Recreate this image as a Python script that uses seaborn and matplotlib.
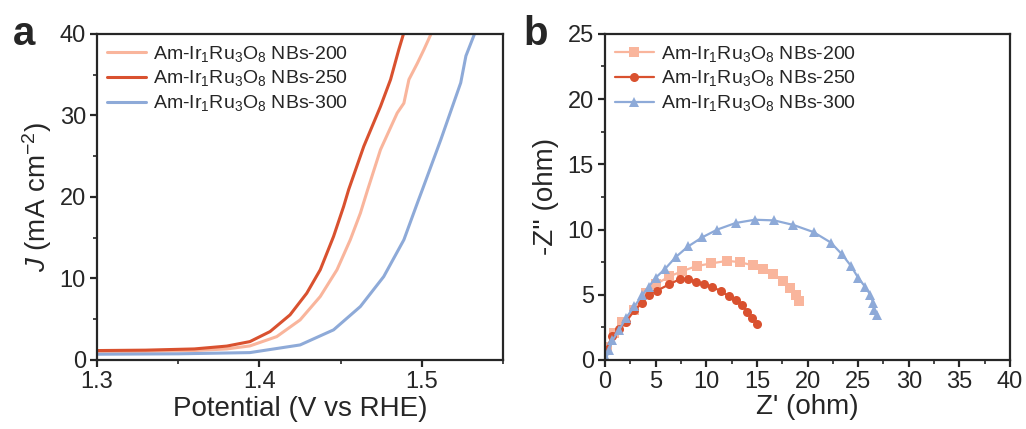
import numpy as np
import pandas as pd
import matplotlib
matplotlib.use("Agg")
import matplotlib.pyplot as plt
from matplotlib.ticker import MultipleLocator
import seaborn as sns

# LSV curves (panel a)
v_200 = [1.30, 1.33, 1.36, 1.38, 1.3942, 1.4107, 1.4251, 1.4375, 1.4478, 1.456, 1.4622, 1.4664,
         1.4746, 1.4849, 1.489, 1.4921, 1.4973, 1.5014, 1.5055]
j_200 = [1.0, 1.05, 1.15, 1.35, 1.72, 2.86, 4.91, 7.78, 11.06, 14.74, 18.0, 20.7,
         25.8, 30.3, 31.5, 34.4, 36.4, 38.1, 39.9]
v_250 = [1.30, 1.33, 1.36, 1.38, 1.3942, 1.4066, 1.4189, 1.4292, 1.4375, 1.4457, 1.4519, 1.455,
         1.4643, 1.4746, 1.4808, 1.4859, 1.4886]
j_250 = [1.15, 1.2, 1.35, 1.7, 2.25, 3.48, 5.53, 8.19, 11.06, 15.15, 18.83, 20.9,
         26.2, 31.1, 34.4, 38.1, 39.9]
v_300 = [1.30, 1.35, 1.3942, 1.4251, 1.4457, 1.4622, 1.4766, 1.489, 1.4973, 1.5004,
         1.5117, 1.524, 1.5272, 1.5323]
j_300 = [0.7, 0.75, 0.9, 1.84, 3.69, 6.55, 10.23, 14.74, 19.25, 20.9,
         27.0, 34.0, 37.3, 39.9]

# Nyquist plots (panel b)
zr_200 = [0.23, 0.9, 1.7, 2.9, 4.0, 5.0, 6.35, 7.6, 9.05, 10.5, 12.05, 13.3, 14.6, 15.6, 16.6, 17.6, 18.3, 18.9, 19.2]
zi_200 = [1.0, 2.05, 2.9, 3.8, 5.1, 5.8, 6.4, 6.8, 7.2, 7.4, 7.6, 7.5, 7.25, 6.95, 6.6, 6.05, 5.55, 5.0, 4.5]
zr_250 = [0.07, 0.73, 1.4, 2.05, 2.9, 3.7, 4.3, 5.1, 6.35, 7.4, 8.2, 9.0, 9.8, 10.6, 11.5, 12.2, 12.95, 13.55, 14.05, 14.55, 15.0]
zi_250 = [0.77, 1.8, 2.4, 2.9, 3.8, 4.4, 5.0, 5.3, 5.8, 6.2, 6.2, 6.0, 5.8, 5.6, 5.25, 4.9, 4.6, 4.2, 3.7, 3.25, 2.75]
zr_300 = [0.13, 0.4, 0.73, 1.4, 2.05, 2.9, 3.7, 4.3, 5.0, 5.95, 7.0, 8.2, 9.6, 11.1, 12.9, 14.8, 16.7, 18.6, 20.6, 22.3, 23.4, 24.3, 25.0, 25.7, 26.2, 26.5, 26.6, 26.85]
zi_300 = [0.13, 0.77, 1.5, 2.3, 3.2, 4.1, 5.0, 5.6, 6.3, 7.0, 7.9, 8.7, 9.4, 10.0, 10.5, 10.75, 10.7, 10.35, 9.8, 9.0, 8.1, 7.2, 6.3, 5.6, 5.0, 4.35, 3.85, 3.45]

labels = ["Am-Ir$_1$Ru$_3$O$_8$ NBs-200", "Am-Ir$_1$Ru$_3$O$_8$ NBs-250", "Am-Ir$_1$Ru$_3$O$_8$ NBs-300"]
colors = ["#F9B59C", "#D9512F", "#8EAAD8"]

sns.set_style("ticks")
plt.rcParams["font.family"] = ["Liberation Sans", "DejaVu Sans"]
plt.rcParams["mathtext.fontset"] = "custom"
plt.rcParams["mathtext.rm"] = "Liberation Sans"
plt.rcParams["mathtext.it"] = "Liberation Sans:italic"
plt.rcParams["axes.linewidth"] = 1.6

fig = plt.figure(figsize=(10.26, 4.29), dpi=100)
ax1 = fig.add_axes([0.0945, 0.161, 0.3957, 0.760])
ax2 = fig.add_axes([0.5897, 0.161, 0.3947, 0.760])

# panel a
for v, j, lab, c in zip([v_200, v_250, v_300], [j_200, j_250, j_300], labels, colors):
    sns.lineplot(x=v, y=j, ax=ax1, color=c, lw=2.2, label=lab, sort=False)
ax1.set_xlim(1.3, 1.55)
ax1.set_ylim(0, 40)
ax1.xaxis.set_major_locator(MultipleLocator(0.1))
ax1.xaxis.set_minor_locator(MultipleLocator(0.05))
ax1.yaxis.set_major_locator(MultipleLocator(10))
ax1.yaxis.set_minor_locator(MultipleLocator(5))
ax1.set_xlabel("Potential (V vs RHE)", fontsize=20, labelpad=2)
ax1.set_ylabel("$J$ (mA cm$^{-2}$)", fontsize=20, labelpad=4)
ax1.legend(loc="upper left", frameon=False, fontsize=14, handlelength=2.0,
           borderaxespad=0.1, labelspacing=0.25, handletextpad=0.4)

# panel b
markers = ["s", "o", "^"]
for zr, zi, lab, c, m in zip([zr_200, zr_250, zr_300], [zi_200, zi_250, zi_300], labels, colors, markers):
    sns.lineplot(x=zr, y=zi, ax=ax2, color=c, lw=1.6, marker=m, markersize=6.5,
                 markeredgewidth=0, label=lab, sort=False)
ax2.set_xlim(0, 40)
ax2.set_ylim(0, 25)
ax2.xaxis.set_major_locator(MultipleLocator(5))
ax2.xaxis.set_minor_locator(MultipleLocator(2.5))
ax2.yaxis.set_major_locator(MultipleLocator(5))
ax2.yaxis.set_minor_locator(MultipleLocator(2.5))
ax2.set_xlabel("Z' (ohm)", fontsize=20, labelpad=0.5)
ax2.set_ylabel("-Z'' (ohm)", fontsize=20, labelpad=6)
ax2.legend(loc="upper left", frameon=False, fontsize=14, handlelength=2.0,
           borderaxespad=0.1, labelspacing=0.25, handletextpad=0.4)

for ax in (ax1, ax2):
    ax.tick_params(which="major", labelsize=17, length=5, width=1.6, direction="out", pad=3)
    ax.tick_params(which="minor", length=3, width=1.2, direction="out")
    for s in ax.spines.values():
        s.set_visible(True)

fig.text(0.013, 0.965, "a", fontsize=29, fontweight="bold", va="top")
fig.text(0.510, 0.965, "b", fontsize=29, fontweight="bold", va="top")

fig.savefig("out.png", dpi=100)
